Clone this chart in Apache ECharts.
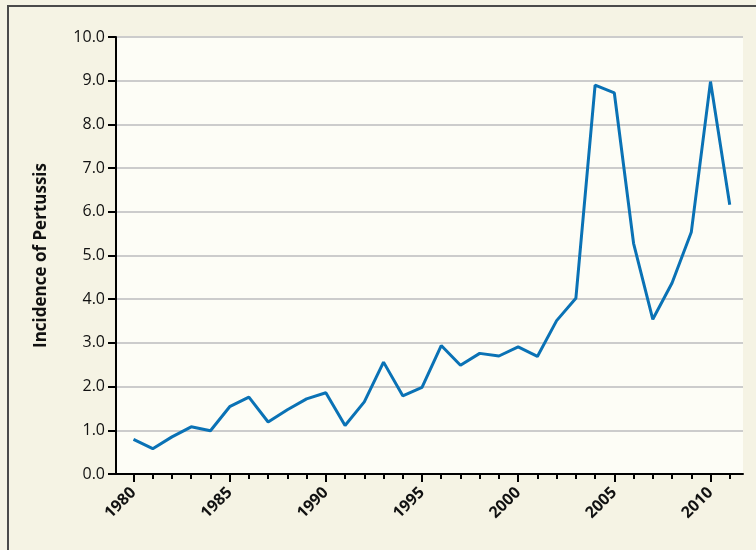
<!DOCTYPE html>
<html>
<head>
<meta charset="utf-8">
<script src="https://cdn.jsdelivr.net/npm/echarts@6/dist/echarts.min.js"></script>
<style>
html,body{margin:0;padding:0;background:#f5f3e4;}
#chart{width:756px;height:550px;}
</style>
</head>
<body>
<div id="chart"></div>
<script>
const years = [1980,1981,1982,1983,1984,1985,1986,1987,1988,1989,1990,1991,1992,1993,1994,1995,1996,1997,1998,1999,2000,2001,2002,2003,2004,2005,2006,2007,2008,2009,2010,2011];
const incidence = [0.79,0.58,0.85,1.08,0.99,1.54,1.76,1.19,1.47,1.72,1.86,1.11,1.65,2.56,1.79,1.98,2.94,2.49,2.76,2.70,2.91,2.69,3.51,4.02,8.90,8.72,5.28,3.54,4.37,5.53,8.98,6.16];
const xLabelYears = [1980,1985,1990,1995,2000,2005,2010];
const yTicks = [0,1,2,3,4,5,6,7,8,9,10];
const yTitle = 'Incidence of Pertussis';

const chart = echarts.init(document.getElementById('chart'));
const xMin = 1979.09, xMax = 2011.69;
const data = years.map((y,i)=>[y, incidence[i]]);
chart.setOption({
  backgroundColor:'#f5f3e4',
  animation:false,
  graphic:[
    {type:'line', shape:{x1:8,y1:6,x2:756,y2:6}, style:{stroke:'#4a4a4a', lineWidth:2}},
    {type:'line', shape:{x1:8,y1:5,x2:8,y2:550}, style:{stroke:'#4a4a4a', lineWidth:2}}
  ],
  grid:{left:116, top:37, right:13, bottom:76, show:true, backgroundColor:'#fdfdf6', borderWidth:0},
  xAxis:[{
    type:'value', min:xMin, max:xMax,
    axisLine:{show:true, onZero:false, lineStyle:{color:'#000', width:2}},
    axisTick:{show:true, length:8, customValues:xLabelYears, lineStyle:{color:'#000', width:2}},
    axisLabel:{show:true, customValues:xLabelYears, rotate:45, margin:16, fontFamily:'Open Sans', fontWeight:'bold', fontSize:16, color:'#111', formatter:v=>String(v)},
    splitLine:{show:false}
  },{
    type:'value', min:xMin, max:xMax, position:'bottom',
    axisLine:{show:false},
    axisTick:{show:true, length:5, customValues:years, lineStyle:{color:'#000', width:2}},
    axisLabel:{show:false},
    splitLine:{show:false}
  }],
  yAxis:{
    type:'value', min:0, max:10, interval:1,
    name:yTitle, nameLocation:'middle', nameGap:66, nameRotate:90,
    nameTextStyle:{fontFamily:'Open Sans', fontWeight:'bold', fontSize:17, color:'#111'},
    axisLine:{show:true, lineStyle:{color:'#000', width:2}},
    axisTick:{show:true, length:8, lineStyle:{color:'#000', width:2}},
    axisLabel:{margin:11, fontFamily:'Open Sans', fontSize:16, color:'#111', formatter:v=>v.toFixed(1)},
    splitLine:{show:true, lineStyle:{color:'#cccccc', width:2}}
  },
  series:[{
    type:'line', data:data, xAxisIndex:0, showSymbol:false, symbol:'none',
    lineStyle:{color:'#0a72b5', width:3}
  }]
});
</script>
</body>
</html>
